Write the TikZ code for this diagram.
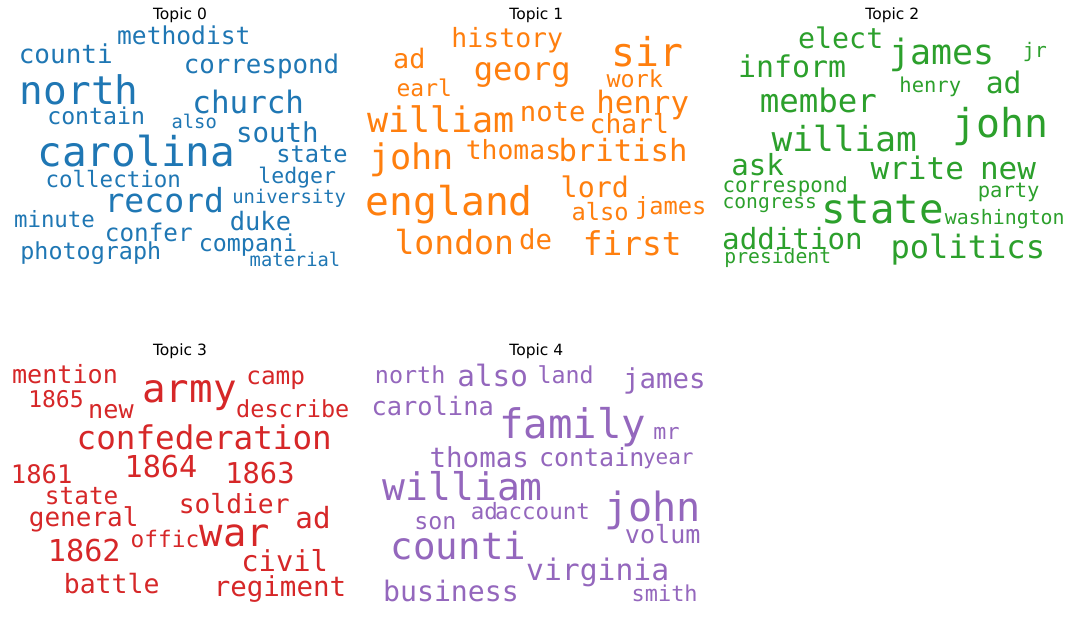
\documentclass[tikz,border=0pt]{standalone}
\usepackage{fontspec}
\usepackage{tikz}
\newfontfamily\wordfont{DejaVu Sans Mono}
\newfontfamily\titlefont{DejaVu Sans}
\definecolor{tabblue}{RGB}{31,119,180}
\definecolor{taborange}{RGB}{255,127,14}
\definecolor{tabgreen}{RGB}{44,160,44}
\definecolor{tabred}{RGB}{214,39,40}
\definecolor{tabpurple}{RGB}{148,103,189}
\tikzset{
    word/.style={
           inner sep=0pt,
           anchor=base,
           font=\wordfont\fontsize{#1}{#1}\selectfont,
           },
    topic title/.style={
           inner sep=0pt,
           anchor=base,
           text=black,
           font=\titlefont\fontsize{15.5}{15.5}\selectfont,
           },
    topic0/.style={text=tabblue},
    topic1/.style={text=taborange},
    topic2/.style={text=tabgreen},
    topic3/.style={text=tabred},
    topic4/.style={text=tabpurple},
}

\begin{document}
\begin{tikzpicture}[x=1pt,y=1pt]
	\fill[white] (0,0) rectangle (1072,618);
	\useasboundingbox (0,0) rectangle (1072,618);

	% Topic 0
	\node[topic title] (T0) at (180,598.7) {Topic 0};
	\node[word=24.6,topic0] (t0methodist)  at (183.8,573)   {methodist};
	\node[word=26,topic0]   (t0counti)     at (65.8,554.7)  {counti};
	\node[word=25.8,topic0] (t0correspond) at (261.5,544)   {correspond};
	\node[word=39.4,topic0] (t0north)      at (79.2,513)    {north};
	\node[word=30.9,topic0] (t0church)     at (248.3,504)   {church};
	\node[word=23.2,topic0] (t0contain)    at (96.2,493)    {contain};
	\node[word=18.8,topic0] (t0also)       at (194.2,489.7) {also};
	\node[word=27.4,topic0] (t0south)      at (277.3,475.3) {south};
	\node[word=41.1,topic0] (t0carolina)   at (136.3,451.3) {carolina};
	\node[word=23.7,topic0] (t0state)      at (312,455.3)   {state};
	\node[word=21.5,topic0] (t0ledger)     at (297.2,434.7) {ledger};
	\node[word=22.5,topic0] (t0collection) at (113.3,430.7) {collection};
	\node[word=33.1,topic0] (t0record)     at (164.3,405.3) {record};
	\node[word=18.9,topic0] (t0university) at (289.2,414.7) {university};
	\node[word=22.4,topic0] (t0minute)     at (54.5,390.3)  {minute};
	\node[word=25.4,topic0] (t0duke)       at (260.5,387.3) {duke};
	\node[word=24.3,topic0] (t0confer)     at (148.8,376.3) {confer};
	\node[word=23.3,topic0] (t0compani)    at (248,366.3)   {compani};
	\node[word=23.4,topic0] (t0photograph) at (90.8,358.7)  {photograph};
	\node[word=18.8,topic0] (t0material)   at (295,351.3)   {material};

	% Topic 1
	\node[topic title] (T1) at (536.3,598.7) {Topic 1};
	\node[word=26.5,topic1] (t1history) at (507.3,570.7) {history};
	\node[word=39.7,topic1] (t1sir)     at (647.8,551.3) {sir};
	\node[word=26.8,topic1] (t1ad)      at (409.3,549.7) {ad};
	\node[word=32.2,topic1] (t1georg)   at (522.3,537)   {georg};
	\node[word=23.4,topic1] (t1work)    at (634.8,530.3) {work};
	\node[word=23,topic1]   (t1earl)    at (424.3,521.3) {earl};
	\node[word=30.8,topic1] (t1henry)   at (642.7,504.7) {henry};
	\node[word=27.3,topic1] (t1note)    at (552.7,496.3) {note};
	\node[word=35.1,topic1] (t1william) at (441,485.3)   {william};
	\node[word=26.3,topic1] (t1charl)   at (629.3,484.7) {charl};
	\node[word=35.2,topic1] (t1john)    at (411.8,448)   {john};
	\node[word=26.4,topic1] (t1thomas)  at (513.5,458.7) {thomas};
	\node[word=30.6,topic1] (t1british) at (623,456.3)   {british};
	\node[word=28.3,topic1] (t1lord)    at (594.8,420.3) {lord};
	\node[word=39.6,topic1] (t1england) at (449.3,402.3) {england};
	\node[word=23.7,topic1] (t1also)    at (600.2,397.3) {also};
	\node[word=23.7,topic1] (t1james)   at (670.7,403.7) {james};
	\node[word=33.1,topic1] (t1london)  at (454.3,363)   {london};
	\node[word=27.4,topic1] (t1de)      at (535.7,368)   {de};
	\node[word=32.8,topic1] (t1first)   at (632.2,362)   {first};

	% Topic 2
	\node[topic title] (T2) at (892.3,598.7) {Topic 2};
	\node[word=28.3,topic2] (t2elect)      at (840.7,569.7)  {elect};
	\node[word=34.9,topic2] (t2james)      at (942,553)      {james};
	\node[word=20,topic2]   (t2jr)         at (1034.8,560.7) {jr};
	\node[word=29.9,topic2] (t2inform)     at (792,540.7)    {inform};
	\node[word=20.5,topic2] (t2henry)      at (930.3,525.3)  {henry};
	\node[word=29.7,topic2] (t2ad)         at (1003.7,524.7) {ad};
	\node[word=32.4,topic2] (t2member)     at (818.3,505.3)  {member};
	\node[word=39.8,topic2] (t2john)       at (1000.8,480.3) {john};
	\node[word=34.5,topic2] (t2william)    at (844.2,466.3)  {william};
	\node[word=29.1,topic2] (t2ask)        at (757.7,442.3)  {ask};
	\node[word=31,topic2]   (t2write)      at (917.3,438)    {write};
	\node[word=31,topic2]   (t2new)        at (1008,438.7)   {new};
	\node[word=20.8,topic2] (t2correspond) at (785.3,425.7)  {correspond};
	\node[word=20.5,topic2] (t2party)      at (1008.7,420.7) {party};
	\node[word=19.6,topic2] (t2congress)   at (769.8,409.7)  {congress};
	\node[word=40.8,topic2] (t2state)      at (882.5,394.7)  {state};
	\node[word=19.9,topic2] (t2washington) at (1004.8,393)   {washington};
	\node[word=29.2,topic2] (t2addition)   at (792.5,368.7)  {addition};
	\node[word=32.1,topic2] (t2politics)   at (967.8,359.7)  {politics};
	\node[word=19.7,topic2] (t2president)  at (777.8,354.7)  {president};

	% Topic 3
	\node[topic title] (T3) at (180,262) {Topic 3};
	\node[word=25.1,topic3] (t3mention)       at (65,234)      {mention};
	\node[word=39.2,topic3] (t3army)          at (189.5,215.3) {army};
	\node[word=24.4,topic3] (t3camp)          at (275.7,233)   {camp};
	\node[word=23,topic3]   (t3y1865)         at (56,210.7)    {1865};
	\node[word=25.2,topic3] (t3new)           at (111,199.7)   {new};
	\node[word=23.5,topic3] (t3describe)      at (292.8,200.7) {describe};
	\node[word=32.6,topic3] (t3confederation) at (204.2,168)   {confederation};
	\node[word=30.2,topic3] (t3y1864)         at (161,140.3)   {1864};
	\node[word=25.5,topic3] (t3y1861)         at (41.7,134.7)  {1861};
	\node[word=28.7,topic3] (t3y1863)         at (260,134.7)   {1863};
	\node[word=24.4,topic3] (t3state)         at (81.7,113)    {state};
	\node[word=26.3,topic3] (t3soldier)       at (234.2,104.7) {soldier};
	\node[word=26,topic3]   (t3general)       at (83.7,91.3)   {general};
	\node[word=29.2,topic3] (t3ad)            at (313,89.7)    {ad};
	\node[word=38.8,topic3] (t3war)           at (235,71.3)    {war};
	\node[word=22.8,topic3] (t3offic)         at (165,70.7)    {offic};
	\node[word=30.2,topic3] (t3y1862)         at (84.3,56.3)   {1862};
	\node[word=28.8,topic3] (t3civil)         at (284.7,46.3)  {civil};
	\node[word=26.5,topic3] (t3battle)        at (111.7,24.7)  {battle};
	\node[word=27.5,topic3] (t3regiment)      at (280,21.3)    {regiment};

	% Topic 4
	\node[topic title] (T4) at (536.3,262) {Topic 4};
	\node[word=23.4,topic4] (t4north)    at (410.2,234)   {north};
	\node[word=29.3,topic4] (t4also)     at (492.7,231.3) {also};
	\node[word=23.3,topic4] (t4land)     at (565.7,234)   {land};
	\node[word=27.4,topic4] (t4james)    at (664.3,229.7) {james};
	\node[word=25.4,topic4] (t4carolina) at (432.7,202)   {carolina};
	\node[word=40.7,topic4] (t4family)   at (572.7,179.7) {family};
	\node[word=21.7,topic4] (t4mr)       at (666.5,178.7) {mr};
	\node[word=27.5,topic4] (t4thomas)   at (479.3,150.7) {thomas};
	\node[word=25,topic4]   (t4contain)  at (591.7,151.3) {contain};
	\node[word=21,topic4]   (t4year)     at (668.3,153)   {year};
	\node[word=38,topic4]   (t4william)  at (462.7,117.3) {william};
	\node[word=40.2,topic4] (t4john)     at (652.7,96.3)  {john};
	\node[word=22.5,topic4] (t4ad)       at (484.3,98.7)  {ad};
	\node[word=22.5,topic4] (t4account)  at (542.5,98.7)  {account};
	\node[word=23.3,topic4] (t4son)      at (435.3,88.7)  {son};
	\node[word=25.1,topic4] (t4volum)    at (662.7,74.7)  {volum};
	\node[word=37.4,topic4] (t4counti)   at (458.5,58)    {counti};
	\node[word=29.7,topic4] (t4virginia) at (597.7,37.3)  {virginia};
	\node[word=28.2,topic4] (t4business) at (451,16.3)    {business};
	\node[word=21.9,topic4] (t4smith)    at (664.7,16.3)  {smith};

\end{tikzpicture}
\end{document}
